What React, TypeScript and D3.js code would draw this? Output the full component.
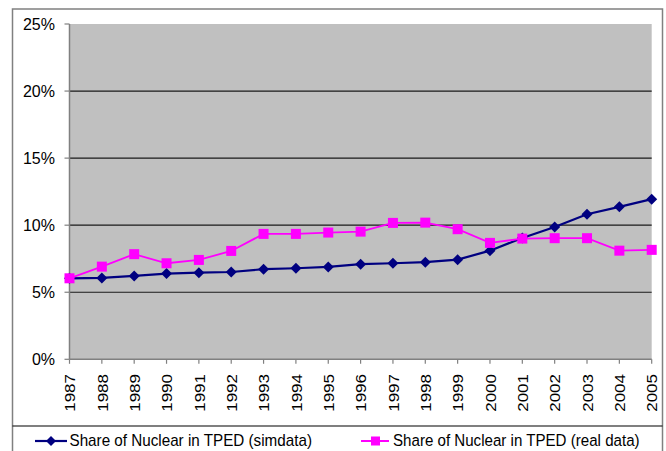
import React from "react";
import * as d3 from "d3";

const years: number[] = [1987, 1988, 1989, 1990, 1991, 1992, 1993, 1994, 1995, 1996, 1997, 1998, 1999, 2000, 2001, 2002, 2003, 2004, 2005];
const simData: number[] = [6.04, 6.07, 6.22, 6.39, 6.46, 6.51, 6.72, 6.79, 6.89, 7.09, 7.16, 7.24, 7.43, 8.1, 9.05, 9.87, 10.82, 11.37, 11.94];
const realData: number[] = [6.04, 6.91, 7.84, 7.16, 7.41, 8.08, 9.35, 9.35, 9.45, 9.52, 10.17, 10.19, 9.7, 8.68, 9.0, 9.03, 9.03, 8.1, 8.16];
const yTicks: number[] = [0, 5, 10, 15, 20, 25];
const seriesNames: string[] = ["Share of Nuclear in TPED (simdata)", "Share of Nuclear in TPED (real data)"];

const W = 666;
const H = 451;
const plot = { left: 69.5, right: 651.7, top: 24, bottom: 359.3 };

export default function App() {
  const x = d3.scaleLinear().domain([years[0], years[years.length - 1]]).range([plot.left, plot.right]);
  const y = d3.scaleLinear().domain([0, 25]).range([plot.bottom, plot.top]);

  const line = d3
    .line<[number, number]>()
    .x((d) => x(d[0]))
    .y((d) => y(d[1]));

  const simPts: [number, number][] = years.map((yr, i) => [yr, simData[i]]);
  const realPts: [number, number][] = years.map((yr, i) => [yr, realData[i]]);

  const diamond = (cx: number, cy: number, r: number) =>
    `M${cx},${cy - r}L${cx + r},${cy}L${cx},${cy + r}L${cx - r},${cy}Z`;

  const font = "'Liberation Sans', Arial, sans-serif";

  return (
    <svg width={W} height={H} style={{ position: "absolute", left: 0, top: 0 }}>
      <rect x={0} y={0} width={W} height={H} fill="#ffffff" />
      {/* outer chart border */}
      <rect x={12.5} y={9} width={650} height={460} fill="none" stroke="#808080" strokeWidth={1.5} />
      {/* plot area */}
      <rect x={plot.left} y={plot.top} width={plot.right - plot.left} height={plot.bottom - plot.top} fill="#c0c0c0" />
      {/* gridlines */}
      {yTicks
        .filter((t) => t > 0 && t < 25)
        .map((t) => (
          <line key={"g" + t} x1={plot.left} x2={plot.right} y1={y(t)} y2={y(t)} stroke="#1a1a1a" strokeWidth={1.2} />
        ))}
      {/* axes */}
      <line x1={plot.left} x2={plot.left} y1={plot.top} y2={plot.bottom} stroke="#808080" strokeWidth={1.5} />
      <line x1={plot.left} x2={plot.right} y1={plot.bottom} y2={plot.bottom} stroke="#808080" strokeWidth={1.5} />
      {yTicks.map((t) => (
        <g key={"yt" + t}>
          <line x1={plot.left - 5} x2={plot.left} y1={y(t)} y2={y(t)} stroke="#808080" strokeWidth={1.2} />
          <text x={55} y={y(t) + 6} textAnchor="end" fontFamily={font} fontSize={16} fill="#000">
            {t + "%"}
          </text>
        </g>
      ))}
      {years.map((yr) => (
        <g key={"xt" + yr}>
          <line x1={x(yr)} x2={x(yr)} y1={plot.bottom} y2={plot.bottom + 4.5} stroke="#808080" strokeWidth={1.2} />
          <text
            transform={`translate(${x(yr)},374) scale(0.9,1) rotate(-90)`}
            textAnchor="end"
            dominantBaseline="central"
            fontFamily={font}
            fontSize={17}
            fill="#000"
          >
            {String(yr)}
          </text>
        </g>
      ))}
      {/* simdata series */}
      <path d={line(simPts) || ""} fill="none" stroke="#000080" strokeWidth={2.2} />
      {simPts.map((p, i) => (
        <path key={"sd" + i} d={diamond(x(p[0]), y(p[1]), 5.5)} fill="#000080" />
      ))}
      {/* real data series */}
      <path d={line(realPts) || ""} fill="none" stroke="#ff00ff" strokeWidth={1.8} />
      {realPts.map((p, i) => (
        <rect key={"rd" + i} x={x(p[0]) - 5} y={y(p[1]) - 5} width={10} height={10} fill="#ff00ff" />
      ))}
      {/* legend */}
      <line x1={12.5} x2={662.5} y1={426} y2={426} stroke="#000" strokeWidth={1.2} />
      <line x1={35} x2={67} y1={441} y2={441} stroke="#000080" strokeWidth={2.2} />
      <path d={diamond(51, 441, 5)} fill="#000080" />
      <text transform="translate(69.5,445.5) scale(0.896,1)" fontFamily={font} fontSize={17} fill="#000">
        {seriesNames[0]}
      </text>
      <line x1={361} x2={389} y1={441} y2={441} stroke="#ff00ff" strokeWidth={2} />
      <rect x={371} y={436.5} width={9} height={9} fill="#ff00ff" />
      <text transform="translate(393,445.5) scale(0.889,1)" fontFamily={font} fontSize={17} fill="#000">
        {seriesNames[1]}
      </text>
    </svg>
  );
}
